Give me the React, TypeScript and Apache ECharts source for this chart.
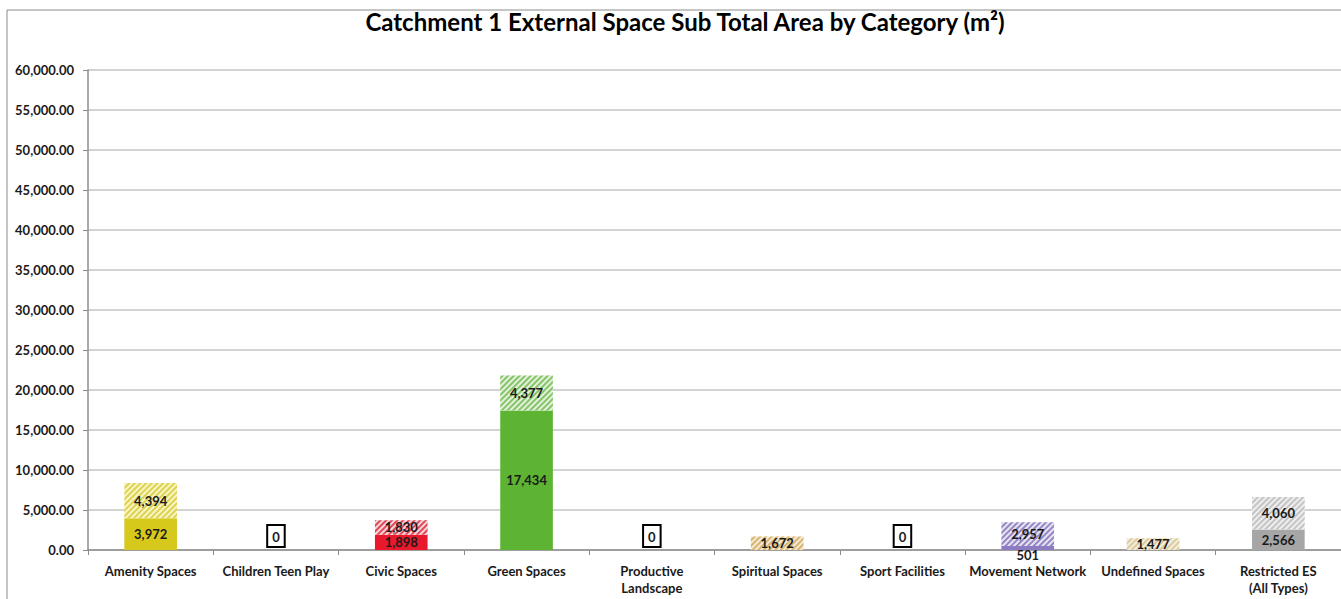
import React, { useEffect, useRef } from "react";
import * as echarts from "echarts";

const categories = [
  "Amenity Spaces",
  "Children Teen Play",
  "Civic Spaces",
  "Green Spaces",
  "Productive\nLandscape",
  "Spiritual Spaces",
  "Sport Facilities",
  "Movement Network",
  "Undefined Spaces",
  "Restricted ES\n(All Types)",
];
const baseValues = [3972, 0, 1898, 17434, 0, 0, 0, 501, 0, 2566];
const hatchedValues = [4394, 0, 1830, 4377, 0, 1672, 0, 2957, 1477, 4060];
const baseColors = ["#d7c81c", "#d7c81c", "#e8192c", "#5db332", "#8fb050", "#d9b370", "#7f9fcf", "#8e7cc3", "#d9c9a0", "#a6a6a6"];
const stripeColors = ["#ddd250", "#ddd250", "#e04858", "#86c46a", "#a0c070", "#d7b474", "#9fb8df", "#9487c2", "#dccba0", "#c4c4c4"];
const hatchBgColors = ["#faf5c4", "#faf5c4", "#f8d6da", "#e3f1da", "#e8f0d8", "#f7ead2", "#e4ecf7", "#e8e4f3", "#f4eedd", "#eeeeee"];
const yTicks = { min: 0, max: 60000, interval: 5000 };

const fmt = (v: number) => v.toLocaleString("en-US");
const fmt2 = (v: number) =>
  v.toLocaleString("en-US", { minimumFractionDigits: 2, maximumFractionDigits: 2 });

export default function App() {
  const ref = useRef<HTMLDivElement>(null);
  useEffect(() => {
    document.body.style.margin = "0";
    const chart = echarts.init(ref.current!, null, { renderer: "svg" });
    const font = "Lato, 'Open Sans', sans-serif";
    const labelBase = {
      show: true,
      position: "inside",
      fontFamily: font,
      fontWeight: "bold",
      fontSize: 13,
      color: "#1a1a1a",
    };
    const baseData = baseValues.map((v, i) => {
      const zeroBoth = v === 0 && hatchedValues[i] === 0;
      let label: any = { ...labelBase, show: v > 0 };
      if (zeroBoth) {
        label = {
          ...labelBase,
          show: true,
          position: "top",
          distance: 4,
          borderColor: "#000",
          borderWidth: 2,
          padding: [4, 4, 3, 4],
          backgroundColor: "#fff",
          formatter: "0",
        };
      } else if (v > 0 && v < 1000) {
        label = { ...labelBase, show: true, position: "bottom", distance: -1, lineHeight: 12 };
      }
      return { value: v, itemStyle: { color: baseColors[i] }, label };
    });
    const hatchedData = hatchedValues.map((v, i) => ({
      value: v,
      itemStyle: {
        color: hatchBgColors[i],
        decal: {
          symbol: "rect",
          symbolSize: 1,
          color: stripeColors[i],
          dashArrayX: [1, 0],
          dashArrayY: [1.5, 1.5],
          rotation: -Math.PI / 4,
        },
      },
      label: { ...labelBase, show: v > 0 },
    }));
    chart.setOption({
      animation: false,
      title: {
        text: "Catchment 1 External Space Sub Total Area by Category (m²)",
        left: 680,
        textAlign: "center",
        top: 4,
        textStyle: { fontFamily: font, fontWeight: "bold", fontSize: 24, color: "#000" },
      },
      graphic: [
        {
          type: "rect",
          shape: { x: 7, y: 10, width: 1345, height: 600 },
          style: { fill: "none", stroke: "#8c8c8c", lineWidth: 1 },
          silent: true,
          z: -1,
        },
      ],
      grid: { left: 88, right: 0, top: 70, bottom: 49, containLabel: false },
      xAxis: {
        type: "category",
        data: categories,
        axisLine: { lineStyle: { color: "#8c8c8c", width: 1.5 } },
        axisTick: { show: true, length: 5, lineStyle: { color: "#8c8c8c" } },
        axisLabel: {
          interval: 0,
          margin: 12,
          fontFamily: font,
          fontWeight: "bold",
          fontSize: 13,
          color: "#1a1a1a",
          lineHeight: 17,
        },
      },
      yAxis: {
        type: "value",
        min: yTicks.min,
        max: yTicks.max,
        interval: yTicks.interval,
        axisLine: { show: true, lineStyle: { color: "#8c8c8c", width: 1.5 } },
        axisTick: { show: true, length: 5, lineStyle: { color: "#8c8c8c" } },
        splitLine: { lineStyle: { color: "#c4c4c4", width: 1.5 } },
        axisLabel: {
          margin: 14,
          formatter: (v: number) => fmt2(v),
          fontFamily: font,
          fontWeight: "bold",
          fontSize: 13,
          color: "#1a1a1a",
        },
      },
      series: [
        {
          type: "bar",
          stack: "total",
          barWidth: "42%",
          data: baseData,
          label: { formatter: (p: any) => fmt(p.value) },
          z: 2,
        },
        {
          type: "bar",
          stack: "total",
          barWidth: "42%",
          data: hatchedData,
          label: { formatter: (p: any) => fmt(p.value) },
          z: 2,
        },
      ],
    });
    return () => chart.dispose();
  }, []);
  return <div ref={ref} style={{ width: 1341, height: 599 }} />;
}
